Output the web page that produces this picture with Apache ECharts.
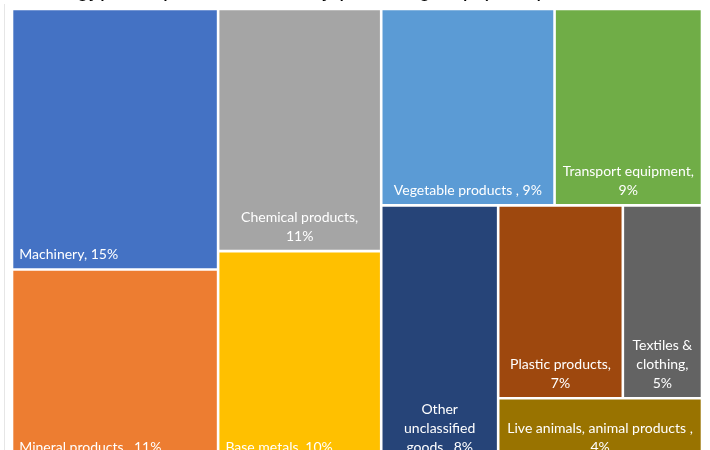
<!DOCTYPE html>
<html>
<head>
<meta charset="utf-8">
<style>html,body{margin:0;padding:0;background:#fff;}#chart{width:710px;height:450px;}</style>
<script src="https://cdn.jsdelivr.net/npm/echarts@6/dist/echarts.min.js"></script>
</head>
<body>
<div id="chart"></div>
<script>
// ---- data ----
const categories = ['Machinery', 'Mineral products', 'Chemical products', 'Base metals',
  'Vegetable products', 'Transport equipment', 'Other unclassified goods',
  'Plastic products', 'Textiles & clothing', 'Live animals, animal products'];
// relative tile sizes estimated from the tile areas
const shares = [15.3, 11.3, 11.25, 9.8, 9.7, 8.25, 8.55, 6.85, 4.35, 3.7];
// printed percentages
const labelPct = [15, 11, 11, 10, 9, 9, 8, 7, 5, 4];
// printed label texts (name part, with the original line breaks / spacing)
const labelNames = ['Machinery', 'Mineral products ', 'Chemical products', 'Base metals',
  'Vegetable products ', 'Transport equipment', 'Other\nunclassified\ngoods ',
  'Plastic products', 'Textiles &\nclothing', 'Live animals, animal products '];
const labelSep = [' ', ' ', '\n', ' ', ' ', '\n', ' ', '\n', '\n', '\n'];
const titleText = "Egypt\u2019s imports structure by product group (2019)";

// ---- styles ----
const colors = ['#4472C4', '#ED7D31', '#A5A5A5', '#FFC000', '#5B9BD5', '#70AD47',
  '#264478', '#9E480E', '#636363', '#997300'];
const labelPos = ['insideBottomLeft', 'insideBottomLeft', 'insideBottom', 'insideBottomLeft',
  'insideBottom', 'insideBottom', 'insideBottom', 'insideBottom', 'insideBottom', 'insideBottom'];
// grouping of tiles used to reproduce the tile arrangement
const groups = [[0, 1], [2, 3], [[4, 5], [6, [[7, 8], 9]]]];

function leaf(i) {
  return {
    name: categories[i],
    value: shares[i],
    itemStyle: { color: colors[i], borderWidth: 1.3, borderColor: '#fff' },
    label: {
      position: labelPos[i],
      formatter: labelNames[i] + ',' + labelSep[i] + labelPct[i] + '%'
    }
  };
}
function build(spec, k) {
  if (typeof spec === 'number') return leaf(spec);
  const children = spec.map((s, j) => build(s, k + '-' + j));
  return {
    name: 'g' + k,
    value: children.reduce((a, c) => a + c.value, 0),
    children: children,
    itemStyle: { borderWidth: 0, gapWidth: 0, borderColor: '#fff' }
  };
}
const data = groups.map((g, j) => build(g, '' + j));

const chart = echarts.init(document.getElementById('chart'), null, { renderer: 'canvas' });
chart.setOption({
  animation: false,
  backgroundColor: '#fff',
  title: {
    text: titleText,
    left: 62, top: -21.5,
    padding: 0,
    textStyle: { fontFamily: 'Liberation Sans', fontSize: 22, fontWeight: 'normal', color: '#000' }
  },
  graphic: [{
    type: 'line', shape: { x1: 4.5, y1: 4, x2: 4.5, y2: 450 },
    style: { stroke: '#e6e6e6', lineWidth: 1 }, silent: true
  }],
  series: [{
    type: 'treemap',
    left: 12, top: 9, width: 690, height: 453,
    roam: false, nodeClick: false,
    breadcrumb: { show: false },
    sort: false,
    squareRatio: 0.8,
    visibleMin: 0,
    levels: [{ itemStyle: { borderWidth: 0, gapWidth: 0, borderColor: '#fff' } }],
    itemStyle: { borderWidth: 0, gapWidth: 0, borderColor: '#fff' },
    upperLabel: { show: false },
    label: {
      show: true, color: '#fff', fontFamily: 'Lato', fontSize: 14, lineHeight: 19,
      padding: [0, 6, 4, 6], distance: 0, overflow: 'none'
    },
    emphasis: { disabled: true },
    data: data
  }]
});
</script>
</body>
</html>
